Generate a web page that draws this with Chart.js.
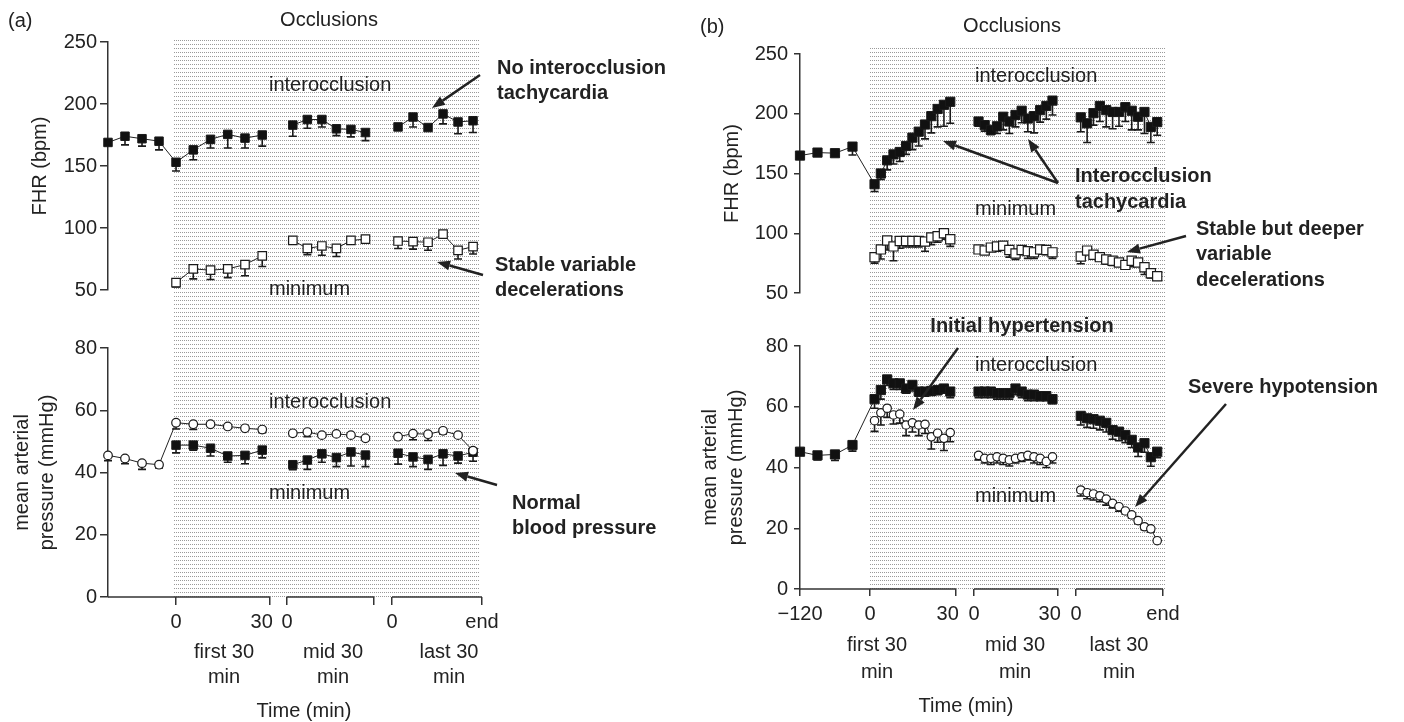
<!DOCTYPE html>
<html>
<head>
<meta charset="utf-8">
<script src="https://cdn.jsdelivr.net/npm/chart.js@4"></script>
<style>
body{margin:0;background:#fff;width:1404px;height:722px;overflow:hidden;position:relative}
canvas{position:absolute}
</style>
</head>
<body>
<canvas id="aTop" width="690" height="312" style="left:0px;top:0px"></canvas>
<canvas id="aBot" width="690" height="410" style="left:0px;top:312px"></canvas>
<canvas id="bTop" width="714" height="312" style="left:690px;top:0px"></canvas>
<canvas id="bBot" width="714" height="410" style="left:690px;top:312px"></canvas>
<script>
// ---- times (min) inside each block ----
const aBaseT=[-120,-90,-60,-30];
const aFirstT=[0,5.5,11,16.5,22,27.5];
const aMidT=[2,7,12,17,22,27];
const aLastT=[2,7,12,17,22,27];
const bBaseT=[-120,-90,-60,-30];
const bSegT=[1.6,3.8,6,8.2,10.4,12.6,14.8,17,19.2,21.4,23.6,25.8,28];

// ---- (a) FHR, interocclusion (filled squares) ----
const aFhrBase=[169,174,172,170],           aFhrBaseErr=[2,7,6,7];
const aFhrFirst=[153,163,171.5,175.5,172.5,175], aFhrFirstErr=[7,8,7,11,8,9];
const aFhrMid=[183,187.5,187.5,180,179.5,177],   aFhrMidErr=[9,7,6,5.5,6,6.5];
const aFhrLast=[181.5,189.5,181,192,185.5,186.5],aFhrLastErr=[2,8,2,8,9.5,9.5];
// ---- (a) FHR, minimum (open squares) ----
const aMinFirst=[56,67,66,67,70.5,77.5], aMinFirstErr=[3.5,8,7.5,7,9,8.5];
const aMinMid=[90,83.5,85.5,83.5,90,91], aMinMidErr=[0,5,7.5,6.5,0,0];
const aMinLast=[89.5,89,88.5,95,82,85],  aMinLastErr=[6,6,6.5,0,7,6];
// ---- (a) MAP, interocclusion (open circles) ----
const aMapBase=[45.5,44.5,43,42.5],           aMapBaseErr=[1.7,1.7,2,1];
const aMapFirst=[56,55.5,55.5,54.8,54.2,53.8], aMapFirstErr=[2,1.7,0,0,0,1];
const aMapMid=[52.6,53,52,52.4,52,51],         aMapMidErr=[0,1.5,0,0,0,0];
const aMapLast=[51.5,52.5,52.3,53.4,52,47],    aMapLastErr=[0,2,2,1,0,0];
// ---- (a) MAP, minimum (filled squares) ----
const aMapMinFirst=[48.8,48.8,47.8,45.3,45.5,47.2], aMapMinFirstErr=[2.5,1.6,2.5,2,2.7,2.5];
const aMapMinMid=[42.5,44,46,44.8,46.6,45.6],       aMapMinMidErr=[1.6,3,2.7,2.9,4.5,3.7];
const aMapMinLast=[46.2,45,44.2,46,45.3,46.5],      aMapMinLastErr=[3.5,3.1,3.2,3.7,2.3,2.9];

// ---- (b) FHR, interocclusion (filled squares) ----
const bFhrBase=[165,167.5,167,172.5], bFhrBaseErr=[0,0,0,7];
const bFhrFirst=[141,150,161,166,168,173,180,185,191,198,204,207.5,210];
const bFhrFirstErr=[6,5,8,8,8,7,10,12,12,14,15,18,18];
const bFhrMid=[193.5,190.5,186.5,189.5,197.5,193.5,199,202.5,196,198,203,206.5,211];
const bFhrMidErr=[4,5,4,6,11,10,10,10,11,14,10,11,12];
const bFhrLast=[197,192,200.5,206.5,203,201.5,201.5,205.5,202.5,197.5,201.5,189,193];
const bFhrLastErr=[12,16,10,13,14,14,12,12,16,11,18,13,11];
// ---- (b) FHR, minimum (open squares) ----
const bMinFirst=[80,86.5,94,89,93.5,93.5,93.5,93.5,93,96.5,97.5,100,95];
const bMinFirstErr=[5,8,8,12,6,5,5,5,8,6,5,5,6];
const bMinMid=[86.5,85.5,88,89,89.5,86,83,86,85,84,86.5,86,84];
const bMinMidErr=[3,3,3,4,3,6,5,4,6,5,4,4,5];
const bMinLast=[80.5,85.5,82,80,78,77,75.5,73.5,77,75.5,71.5,66.5,64];
const bMinLastErr=[6,3,3,3,4,4,3,3,5,3,6,4,2];
// ---- (b) MAP, interocclusion (filled squares) ----
const bMapBase=[45.2,44,44.3,47.4], bMapBaseErr=[1,1.5,2,2];
const bMapFirst=[62.5,65.5,69,67.7,67.7,66,67.2,65,65,65.2,65.5,66,65];
const bMapFirstErr=[3,3,2,2,2,1.5,2,1.5,1.5,1.5,1.5,1.5,2];
const bMapMid=[65,65,65,64.5,64.5,64.5,66,65,64,64,63.5,63.5,62.5];
const bMapMidErr=[2,2,2,2,2,2,2,2,2,2,1.5,1.5,1.5];
const bMapLast=[57,56.2,55.9,55.4,54.7,52.3,51.8,50.7,49.1,46.6,48,43.4,45.2];
const bMapLastErr=[3,3,3,3,3,3,3,2.5,2.5,3,3,3,2];
// ---- (b) MAP, minimum (open circles) ----
const bMapMinFirst=[55.4,58,59.5,57.3,57.6,54,54.7,54,54.2,50.1,51.3,49.6,51.5];
const bMapMinFirstErr=[3.5,4,3,3,3,3.5,3,3.5,3,4,3,4,3];
const bMapMinMid=[44,43,43,43.5,43,42.5,43,43.5,44,43.5,43,42,43.5];
const bMapMinMidErr=[1.5,1.5,2,2,2,2,1.5,1.5,1.5,2,2,2,2];
const bMapMinLast=[32.6,31.7,31.3,30.7,29.6,28.2,27.1,25.7,24.4,22.5,20.5,19.8,15.9];
const bMapMinLastErr=[2,2,2,2,2,1.5,1.5,1,1,1,1,1,0];

// x tick labels (the "30" sits left of its tick, hence the padding)
const aTickLabels=['0','30   ','0','','0','end'];
const bTickLabels=['\u2212120','0','30   ','0','30   ','0','end'];

// layout of the broken time axis: [offset, scale] per block
const aLay={base:[0,21.7/120],first:[0,1],mid:[35.4,0.927],last:[68.9,0.957],min:-21.7,max:97.6};
const bLay={base:[0,24.4/120],first:[0,1],mid:[36.3,0.977],last:[71.9,1.01],min:-24.4,max:102.2};

const FONT='"Liberation Sans", Arial, Helvetica, sans-serif';
Chart.defaults.font.family=FONT;
Chart.defaults.font.size=20;
Chart.defaults.color='#222';

function seg(lay,t,v,e){
  return t.map((tt,i)=>({x:lay[0]+tt*lay[1],y:v[i],e:e[i]}));
}
function join(...parts){
  let out=[];
  parts.forEach((p,i)=>{
    if(i) out.push({x:out[out.length-1].x,y:null});
    out=out.concat(p);
  });
  return out;
}
function series(data,shape,filled,r){
  return {
    data:data,clip:false,
    borderColor:'#222',borderWidth:1,tension:0,spanGaps:false,
    pointStyle:shape,pointRadius:r,
    pointBackgroundColor:filled?'#111':'#fff',
    pointBorderColor:'#1a1a1a',pointBorderWidth:filled?1:1.2
  };
}

function dots(ctx){
  const c=document.createElement('canvas');
  c.width=2;c.height=4;
  const g=c.getContext('2d');
  g.fillStyle='#9a9a9a';
  g.fillRect(0,0,1,1);
  return ctx.createPattern(c,'repeat');
}
function arrow(ctx,x0,y0,x1,y1){
  const a=Math.atan2(y1-y0,x1-x0),L=13,W=5;
  const bx=x1-L*Math.cos(a),by=y1-L*Math.sin(a);
  ctx.beginPath();ctx.moveTo(x0,y0);ctx.lineTo(bx,by);ctx.stroke();
  ctx.beginPath();ctx.moveTo(x1,y1);
  ctx.lineTo(bx-W*Math.sin(a),by+W*Math.cos(a));
  ctx.lineTo(bx+W*Math.sin(a),by-W*Math.cos(a));
  ctx.closePath();ctx.fill();
}

const extras={
  id:'extras',
  beforeDatasetsDraw(chart,args,o){
    const {ctx,chartArea}=chart, x=chart.scales.x, y=chart.scales.y;
    ctx.save();
    if(o.shade){
      const s=o.shade;
      const x0=Math.round(x.getPixelForValue(s.from)+s.dx0);
      const x1=Math.round(x.getPixelForValue(s.to)+s.dx1);
      const y1=s.bottom==null?chartArea.bottom:s.bottom;
      ctx.fillStyle=dots(ctx);
      ctx.fillRect(x0,s.top,x1-x0,y1-s.top);
    }
    // SEM bars, drawn below the markers
    ctx.strokeStyle='#1a1a1a';ctx.lineWidth=1.6;
    chart.data.datasets.forEach(ds=>{
      ds.data.forEach(p=>{
        if(p.y==null||!p.e) return;
        const px=x.getPixelForValue(p.x),py=y.getPixelForValue(p.y),pe=y.getPixelForValue(p.y-p.e);
        ctx.beginPath();
        ctx.moveTo(px,py);ctx.lineTo(px,pe);
        ctx.moveTo(px-o.cap,pe);ctx.lineTo(px+o.cap,pe);
        ctx.stroke();
      });
    });
    ctx.restore();
  },
  afterDraw(chart,args,o){
    const {ctx,chartArea}=chart, x=chart.scales.x;
    ctx.save();
    if(o.axisSegs){
      ctx.strokeStyle='#333';ctx.lineWidth=1.5;
      o.axisSegs.forEach(sg=>{
        ctx.beginPath();
        ctx.moveTo(x.getPixelForValue(sg[0]),chartArea.bottom);
        ctx.lineTo(x.getPixelForValue(sg[1]),chartArea.bottom);
        ctx.stroke();
      });
    }
    ctx.fillStyle='#222';ctx.textBaseline='middle';
    (o.texts||[]).forEach(t=>{
      ctx.font=(t.b?'bold ':'')+'20px '+FONT;
      ctx.textAlign=t.al||'left';
      ctx.fillText(t.s,t.x-o.ox,t.y-o.oy);
    });
    ctx.strokeStyle='#222';ctx.lineWidth=2.5;
    (o.arrows||[]).forEach(a=>arrow(ctx,a[0]-o.ox,a[1]-o.oy,a[2]-o.ox,a[3]-o.oy));
    ctx.restore();
  }
};

function makeChart(id,c){
  return new Chart(document.getElementById(id),{
    type:'line',
    data:{datasets:c.datasets},
    options:{
      responsive:false,animation:false,events:[],
      layout:{padding:{top:c.padTop,bottom:c.padBottom,right:c.padRight,left:0}},
      plugins:{legend:{display:false},tooltip:{enabled:false},extras:c.extras},
      scales:{
        x:{
          type:'linear',min:c.xmin,max:c.xmax,display:c.showX,
          afterFit:s=>{if(c.showX) s.height=c.xHeight;},
          afterBuildTicks:s=>{s.ticks=c.xTicks.map(v=>({value:v}));},
          ticks:{autoSkip:false,maxRotation:0,padding:c.xPad||0,callback:(v,i)=>c.xLabels[i]},
          grid:{drawOnChartArea:false,tickLength:c.xTl||8,color:'#333',lineWidth:1.5},
          border:{display:false}
        },
        y:{
          min:c.ymin,max:c.ymax,
          afterFit:s=>{s.width=c.yWidth;},
          ticks:{stepSize:c.ystep,padding:c.yPad},
          grid:{drawOnChartArea:false,tickLength:c.yTl,color:'#333',lineWidth:1.5},
          border:{color:'#333',width:1.5},
          title:{display:true,text:c.yTitle,padding:{top:c.yTitlePad,bottom:0},font:{size:20,lineHeight:c.yTitleLh}}
        }
      }
    },
    plugins:[extras]
  });
}

// ---------- panel (a) ----------
const aX={xmin:aLay.min,xmax:aLay.max,xTicks:[0,30,35.4,63.2,68.9,97.6],xLabels:aTickLabels,padRight:208,yWidth:108,yTl:8,yPad:3};

makeChart('aTop',Object.assign({},aX,{
  datasets:[
    series(join(seg(aLay.base,aBaseT,aFhrBase,aFhrBaseErr).concat(seg(aLay.first,aFirstT,aFhrFirst,aFhrFirstErr)),
      seg(aLay.mid,aMidT,aFhrMid,aFhrMidErr),seg(aLay.last,aLastT,aFhrLast,aFhrLastErr)),'rect',true,6),
    series(join(seg(aLay.first,aFirstT,aMinFirst,aMinFirstErr),seg(aLay.mid,aMidT,aMinMid,aMinMidErr),
      seg(aLay.last,aLastT,aMinLast,aMinLastErr)),'rect',false,6)
  ],
  padTop:42,padBottom:22,showX:false,ymin:50,ymax:250,ystep:50,yTitle:'FHR (bpm)',yTitlePad:28,yTitleLh:1.2,
  extras:{ox:0,oy:0,cap:4,
    shade:{from:0,to:aLay.max,dx0:-3,dx1:-2,top:40,bottom:312},
    texts:[
      {s:'(a)',x:8,y:21},{s:'Occlusions',x:329,y:20,al:'center'},
      {s:'interocclusion',x:269,y:85},{s:'minimum',x:269,y:289},
      {s:'No interocclusion',x:497,y:68,b:1},{s:'tachycardia',x:497,y:93,b:1},
      {s:'Stable variable',x:495,y:265,b:1},{s:'decelerations',x:495,y:290,b:1}
    ],
    arrows:[[480,75,432,108],[483,275,437,262]]}
}));

makeChart('aBot',Object.assign({},aX,{
  datasets:[
    series(join(seg(aLay.base,aBaseT,aMapBase,aMapBaseErr).concat(seg(aLay.first,aFirstT,aMapFirst,aMapFirstErr)),
      seg(aLay.mid,aMidT,aMapMid,aMapMidErr),seg(aLay.last,aLastT,aMapLast,aMapLastErr)),'circle',false,4.3),
    series(join(seg(aLay.first,aFirstT,aMapMinFirst,aMapMinFirstErr),seg(aLay.mid,aMidT,aMapMinMid,aMapMinMidErr),
      seg(aLay.last,aLastT,aMapMinLast,aMapMinLastErr)),'rect',true,6)
  ],
  padTop:36,padBottom:0,showX:true,xHeight:125,xTl:8,xPad:5,ymin:0,ymax:80,ystep:20,
  yTitle:['mean arterial','pressure (mmHg)'],yTitlePad:10,yTitleLh:1.25,
  extras:{ox:0,oy:312,cap:4,
    shade:{from:0,to:aLay.max,dx0:-3,dx1:-2,top:0,bottom:null},
    axisSegs:[[aLay.min,30],[35.4,63.2],[68.9,aLay.max]],
    texts:[
      {s:'interocclusion',x:269,y:402},{s:'minimum',x:269,y:493},
      {s:'Normal',x:512,y:503,b:1},{s:'blood pressure',x:512,y:528,b:1},
      {s:'first 30',x:224,y:652,al:'center'},{s:'min',x:224,y:677,al:'center'},
      {s:'mid 30',x:333,y:652,al:'center'},{s:'min',x:333,y:677,al:'center'},
      {s:'last 30',x:449,y:652,al:'center'},{s:'min',x:449,y:677,al:'center'},
      {s:'Time (min)',x:304,y:711,al:'center'}
    ],
    arrows:[[497,485,455,473]]}
}));

// ---------- panel (b) ----------
const bX={xmin:bLay.min,xmax:bLay.max,xTicks:[bLay.min,0,30,36.3,65.6,71.9,bLay.max],xLabels:bTickLabels,padRight:241,yWidth:110,yTl:6,yPad:6};

makeChart('bTop',Object.assign({},bX,{
  datasets:[
    series(join(seg(bLay.base,bBaseT,bFhrBase,bFhrBaseErr).concat(seg(bLay.first,bSegT,bFhrFirst,bFhrFirstErr)),
      seg(bLay.mid,bSegT,bFhrMid,bFhrMidErr),seg(bLay.last,bSegT,bFhrLast,bFhrLastErr)),'rect',true,6.5),
    series(join(seg(bLay.first,bSegT,bMinFirst,bMinFirstErr),seg(bLay.mid,bSegT,bMinMid,bMinMidErr),
      seg(bLay.last,bSegT,bMinLast,bMinLastErr)),'rect',false,6.5)
  ],
  padTop:54,padBottom:19,showX:false,ymin:50,ymax:250,ystep:50,yTitle:'FHR (bpm)',yTitlePad:30,yTitleLh:1.2,
  extras:{ox:690,oy:0,cap:4,
    shade:{from:0,to:bLay.max,dx0:0,dx1:3,top:47,bottom:312},
    texts:[
      {s:'(b)',x:700,y:27},{s:'Occlusions',x:1012,y:26,al:'center'},
      {s:'interocclusion',x:975,y:76},{s:'minimum',x:975,y:209},
      {s:'Interocclusion',x:1075,y:176,b:1},{s:'tachycardia',x:1075,y:202,b:1},
      {s:'Stable but deeper',x:1196,y:229,b:1},{s:'variable',x:1196,y:254,b:1},{s:'decelerations',x:1196,y:280,b:1}
    ],
    arrows:[[1058,183,943,141],[1058,183,1028,139],[1186,236,1127,252]]}
}));

makeChart('bBot',Object.assign({},bX,{
  datasets:[
    series(join(seg(bLay.base,bBaseT,bMapBase,bMapBaseErr).concat(seg(bLay.first,bSegT,bMapFirst,bMapFirstErr)),
      seg(bLay.mid,bSegT,bMapMid,bMapMidErr),seg(bLay.last,bSegT,bMapLast,bMapLastErr)),'rect',true,6.5),
    series(join(seg(bLay.first,bSegT,bMapMinFirst,bMapMinFirstErr),seg(bLay.mid,bSegT,bMapMinMid,bMapMinMidErr),
      seg(bLay.last,bSegT,bMapMinLast,bMapMinLastErr)),'circle',false,4.2)
  ],
  padTop:34,padBottom:0,showX:true,xHeight:133,xTl:7,xPad:6,ymin:0,ymax:80,ystep:20,
  yTitle:['mean arterial','pressure (mmHg)'],yTitlePad:7,yTitleLh:1.3,
  extras:{ox:690,oy:312,cap:4,
    shade:{from:0,to:bLay.max,dx0:0,dx1:3,top:0,bottom:null},
    axisSegs:[[bLay.min,30],[36.3,65.6],[71.9,bLay.max]],
    texts:[
      {s:'Initial hypertension',x:1022,y:326,b:1,al:'center'},
      {s:'interocclusion',x:975,y:365},{s:'minimum',x:975,y:496},
      {s:'Severe hypotension',x:1188,y:387,b:1},
      {s:'first 30',x:877,y:645,al:'center'},{s:'min',x:877,y:672,al:'center'},
      {s:'mid 30',x:1015,y:645,al:'center'},{s:'min',x:1015,y:672,al:'center'},
      {s:'last 30',x:1119,y:645,al:'center'},{s:'min',x:1119,y:672,al:'center'},
      {s:'Time (min)',x:966,y:706,al:'center'}
    ],
    arrows:[[958,348,913,410],[1226,404,1135,507]]}
}));
</script>
</body>
</html>
